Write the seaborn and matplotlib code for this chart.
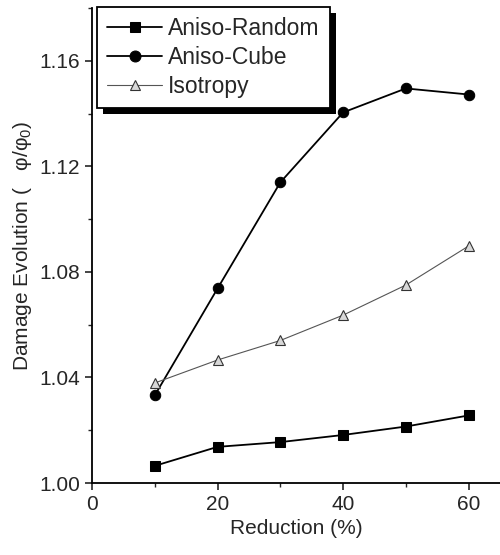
import pandas as pd
import numpy as np
import seaborn as sns
import matplotlib.pyplot as plt
from matplotlib.patches import Rectangle
from matplotlib.ticker import MultipleLocator

# data
reduction = [10, 20, 30, 40, 50, 60]
aniso_random = [1.0065, 1.0137, 1.0155, 1.0182, 1.0214, 1.0256]
aniso_cube = [1.0332, 1.0737, 1.1139, 1.1404, 1.1495, 1.1472]
isotropy = [1.0379, 1.0466, 1.0540, 1.0636, 1.0750, 1.0898]

sns.set_style("ticks")
plt.rcParams['font.family'] = ['Liberation Sans', 'DejaVu Sans']
plt.rcParams['mathtext.fontset'] = 'custom'
plt.rcParams['mathtext.rm'] = 'Liberation Sans'
plt.rcParams['mathtext.it'] = 'Liberation Sans'

fig = plt.figure(figsize=(5, 5.55), dpi=100)
ax = fig.add_axes([0.184, 0.1297, 0.816, 0.856])

sns.lineplot(x=reduction, y=aniso_random, ax=ax, color='black', lw=1.3,
             marker='s', markersize=7.5, markeredgecolor='black', label='Aniso-Random')
sns.lineplot(x=reduction, y=aniso_cube, ax=ax, color='black', lw=1.3,
             marker='o', markersize=7.5, markeredgecolor='black', label='Aniso-Cube')
sns.lineplot(x=reduction, y=isotropy, ax=ax, color='#555555', lw=0.8,
             marker='^', markersize=7, markerfacecolor='#d8d8d8',
             markeredgecolor='#333333', markeredgewidth=0.8, label='Isotropy')

ax.set_xlim(0, 65)
ax.set_ylim(1.0, 1.18)
ax.xaxis.set_major_locator(MultipleLocator(20))
ax.xaxis.set_minor_locator(MultipleLocator(10))
ax.yaxis.set_major_locator(MultipleLocator(0.04))
ax.yaxis.set_minor_locator(MultipleLocator(0.02))
ax.yaxis.set_major_formatter(plt.FormatStrFormatter('%.2f'))
ax.tick_params(which='major', direction='out', length=5, width=1.2, labelsize=15)
ax.tick_params(which='minor', direction='out', length=3, width=1.0)
sns.despine(ax=ax)
for s in ['left', 'bottom']:
    ax.spines[s].set_linewidth(1.3)
    ax.spines[s].set_color('black')

ax.set_xlabel('Reduction (%)', fontsize=15)
ax.set_ylabel('Damage Evolution (   φ/φ$_0$)', fontsize=15)

leg = ax.legend(loc='upper left', bbox_to_anchor=(0.012, 1.002), fontsize=16.5,
                frameon=True, fancybox=False, handlelength=2.4, handletextpad=0.25,
                borderpad=0.45, labelspacing=0.25, borderaxespad=0, markerscale=1.05)
leg.get_frame().set_edgecolor('black')
leg.get_frame().set_linewidth(1.3)
leg.get_frame().set_alpha(1)
leg.set_zorder(10)

# drop shadow behind the legend box
fig.canvas.draw()
bb = leg.get_window_extent().transformed(fig.transFigure.inverted())
shadow = Rectangle((bb.x0 + 6 / 500, bb.y0 - 6 / 555), bb.width, bb.height,
                   transform=fig.transFigure, facecolor='black', edgecolor='none',
                   zorder=9, clip_on=False)
ax.add_patch(shadow)

fig.savefig('out.png', dpi=100)
